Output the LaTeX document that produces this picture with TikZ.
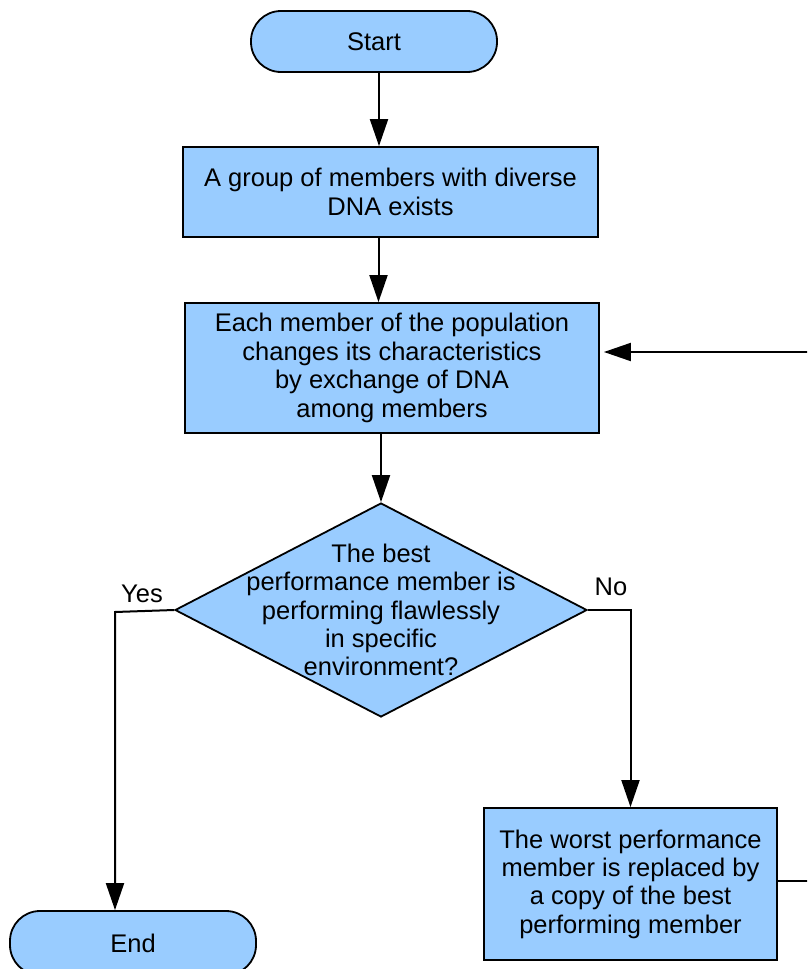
\documentclass[tikz,border=0pt]{standalone}
\usepackage{fontspec}
\setmainfont{Liberation Sans}
\usetikzlibrary{arrows.meta,shapes.geometric}
\definecolor{boxblue}{RGB}{153,204,255}
\begin{document}
\begin{tikzpicture}[x=1pt,y=-1pt,
  every node/.style={font=\fontsize{25.5}{28.4}\selectfont},
  flowbox/.style={draw=black,line width=1.8pt,fill=boxblue,rectangle,inner sep=0pt,align=center},
  terminal/.style={flowbox,rounded corners=30pt},
  decision/.style={draw=black,line width=1.8pt,fill=boxblue,diamond,inner sep=0pt},
  arr/.style={line width=2pt,-{Triangle[length=27pt,width=18pt]}},
  lbl/.style={inner sep=0pt}]
\useasboundingbox (0,0) rectangle (807,969);
\clip (0,0) rectangle (807,969);
\fill[white] (0,0) rectangle (807,969);

% shapes
\node[terminal,minimum width=246pt,minimum height=61pt] (start) at (374,41.5) {Start};
\node[flowbox,minimum width=415pt,minimum height=90pt] (grp) at (390.5,192)
  {A group of members with diverse\\DNA exists};
\node[flowbox,minimum width=414pt,minimum height=130pt] (mix) at (392,368)
  {Each member of the population\\changes its characteristics\\by exchange of DNA\\among members};
\node[decision,minimum width=412pt,minimum height=214pt,
  label={[align=center,inner sep=0pt]center:{The best\\performance member is\\performing flawlessly\\in specific\\environment?}}]
  (test) at (381,610) {};
\node[flowbox,minimum width=293pt,minimum height=152pt] (swap) at (630.5,884)
  {The worst performance\\member is replaced by\\a copy of the best\\performing member};
\node[terminal,minimum width=246pt,minimum height=64pt] (stop) at (133,943) {End};

% branch labels
\node[lbl] (yes) at (142,594) {Yes};
\node[lbl] (no) at (611,587) {No};

% corner points of the routed connectors
\coordinate (yesbend) at (115,612);
\coordinate (loopout) at (830,881);
\coordinate (loopin) at (830,352);

% connectors
\draw[arr] ([xshift=5pt]start.south) -- ([xshift=5pt]start.south |- grp.north);
\draw[arr] ([xshift=-12pt]grp.south) -- ([xshift=-12pt]grp.south |- mix.north);
\draw[arr] (mix.south -| test.north) -- (test.north);
\draw[arr] (test.west) -- (yesbend) -- (yesbend |- stop.north);
\draw[arr] (test.east) -| (swap.north);
\draw[arr] (swap.east |- loopout) -- (loopout) -- (loopin) -- ([xshift=4pt]mix.east |- loopin);
\end{tikzpicture}
\end{document}
